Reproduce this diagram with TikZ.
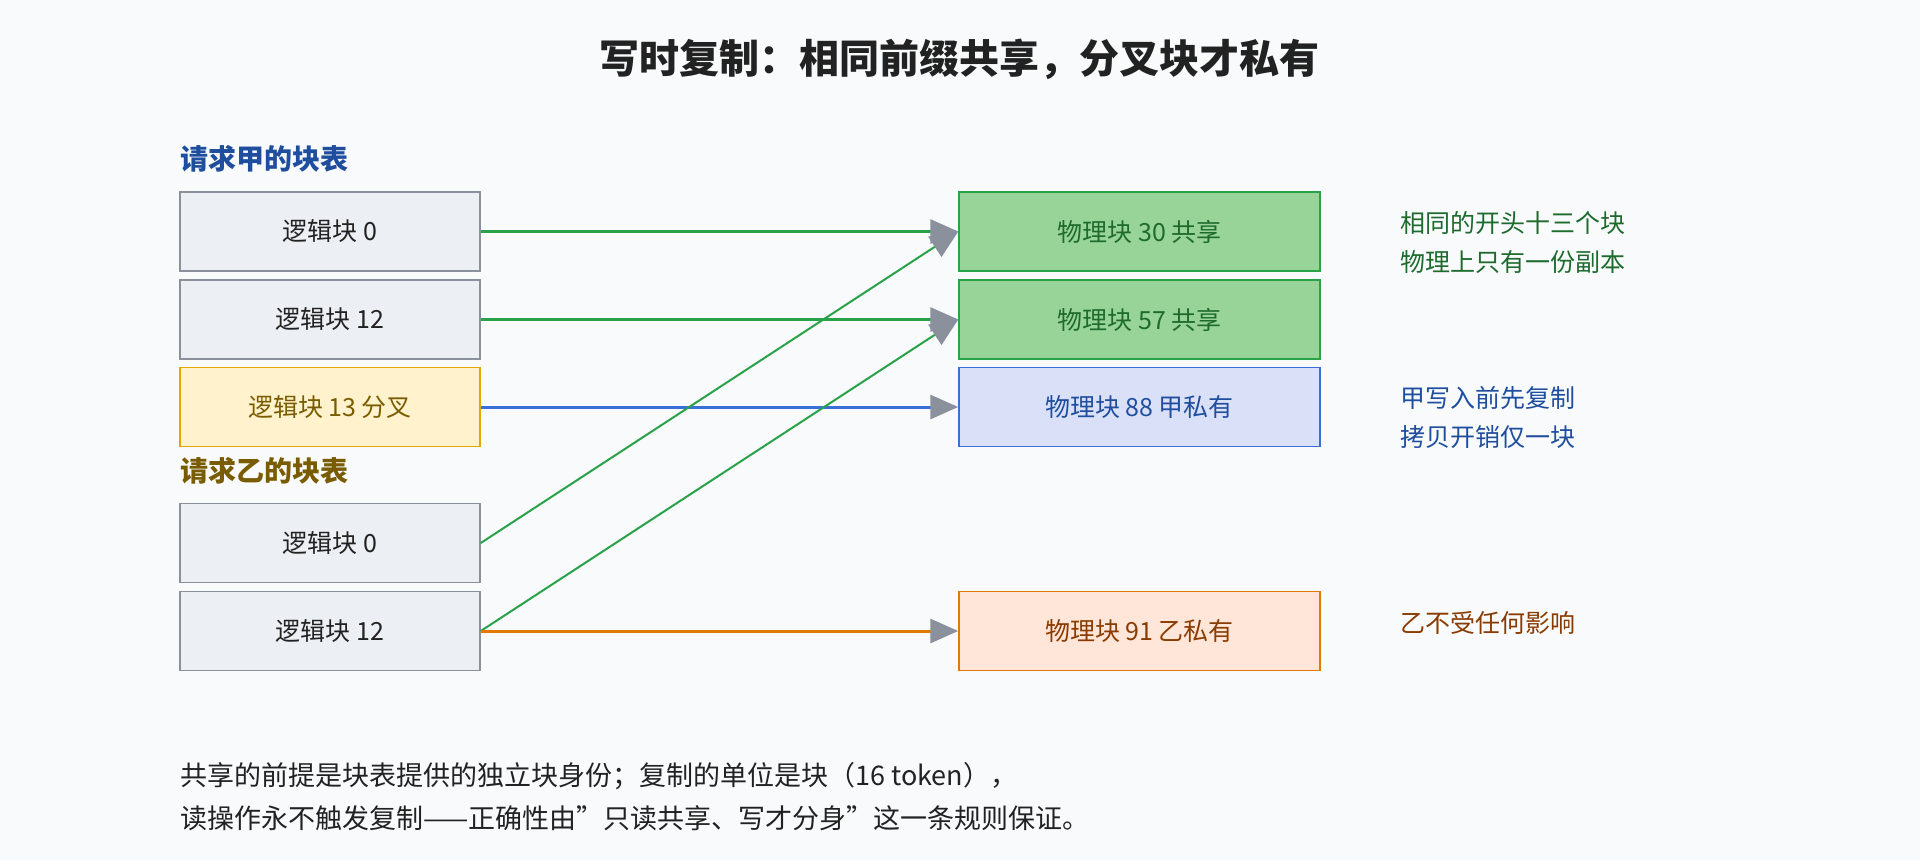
\documentclass[tikz,border=0pt]{standalone}
\usepackage{fontspec}
\setmainfont{Noto Sans CJK SC}
\usetikzlibrary{arrows.meta}
\definecolor{bg}{HTML}{F8FAFC}
\definecolor{gfill}{HTML}{ECEFF3}\definecolor{gline}{HTML}{8A919C}
\definecolor{yfill}{HTML}{FFF2CC}\definecolor{yline}{HTML}{E0A800}\definecolor{ytext}{HTML}{7A5C00}
\definecolor{grfill}{HTML}{98D498}\definecolor{grline}{HTML}{2AA24A}\definecolor{grtext}{HTML}{1E6B2E}
\definecolor{bfill}{HTML}{DAE0F7}\definecolor{bline}{HTML}{3A6FD8}\definecolor{btext}{HTML}{1F4E9E}
\definecolor{ofill}{HTML}{FFE6D9}\definecolor{oline}{HTML}{E07B00}\definecolor{otext}{HTML}{8A3B00}
\definecolor{dark}{HTML}{222222}
\tikzset{
 box/.style={draw, line width=1.5pt, minimum width=300pt, minimum height=79pt, inner sep=0pt, font=\fontsize{25pt}{28pt}\selectfont},
 lg/.style={box, fill=gfill, draw=gline, text=dark},
 ly/.style={box, fill=yfill, draw=yline, text=ytext},
 pg/.style={box, minimum width=361pt, fill=grfill, draw=grline, text=grtext},
 pb/.style={box, minimum width=361pt, fill=bfill, draw=bline, text=btext},
 po/.style={box, minimum width=361pt, fill=ofill, draw=oline, text=otext},
 arr/.style={-{Triangle[length=28pt,width=24pt,fill=gline,color=gline]}},
 head/.style={anchor=west, inner sep=0pt, font=\bfseries\fontsize{28pt}{32pt}\selectfont},
 note/.style={anchor=west, inner sep=0pt, font=\fontsize{25pt}{28pt}\selectfont},
}
\begin{document}
\begin{tikzpicture}[x=1pt,y=-1pt]
\fill[bg] (0,0) rectangle (1920,860);
\useasboundingbox (0,0) rectangle (1920,860);
\node[font=\bfseries\fontsize{40pt}{44pt}\selectfont, text=dark] (title) at (959,59) {写时复制：相同前缀共享，分叉块才私有};
\node[head, text=btext] (ha) at (180,159) {请求甲的块表};
\node[head, text=ytext] (hb) at (180,471) {请求乙的块表};
\node[lg] (a0) at (330,231.5) {逻辑块 0};
\node[lg] (a12) at (330,319.5) {逻辑块 12};
\node[ly] (a13) at (330,407) {逻辑块 13 分叉};
\node[lg] (b0) at (330,543) {逻辑块 0};
\node[lg] (b12) at (330,631) {逻辑块 12};
\node[pg] (p30) at (1139.5,231.5) {物理块 30 共享};
\node[pg] (p57) at (1139.5,319.5) {物理块 57 共享};
\node[pb] (p88) at (1139.5,407) {物理块 88 甲私有};
\node[po] (p91) at (1139.5,631) {物理块 91 乙私有};
\draw[arr, grline, line width=3pt] (a0.east) -- (p30.west);
\draw[arr, grline, line width=3pt] (a12.east) -- (p57.west);
\draw[arr, bline, line width=3pt] (a13.east) -- (p88.west);
\draw[arr, grline, line width=2pt] (b0.east) -- (p30.west);
\draw[arr, grline, line width=2pt] (b12.east) -- (p57.west);
\draw[arr, oline, line width=3pt] (b12.east) -- (p91.west);
\node[note, text=grtext] (n1) at (1400,223) {相同的开头十三个块};
\node[note, text=grtext] (n2) at (1400,262) {物理上只有一份副本};
\node[note, text=btext] (n3) at (1400,398) {甲写入前先复制};
\node[note, text=btext] (n4) at (1400,437) {拷贝开销仅一块};
\node[note, text=otext] (n5) at (1400,623) {乙不受任何影响};
\node[note, text=dark, font=\fontsize{27pt}{30pt}\selectfont] (f1) at (180,776) {共享的前提是块表提供的独立块身份；复制的单位是块（16 token），};
\node[note, text=dark, font=\fontsize{27pt}{30pt}\selectfont] (f2) at (180,818) {读操作永不触发复制——正确性由\symbol{34}只读共享、写才分身\symbol{34}这一条规则保证。};
\end{tikzpicture}
\end{document}
